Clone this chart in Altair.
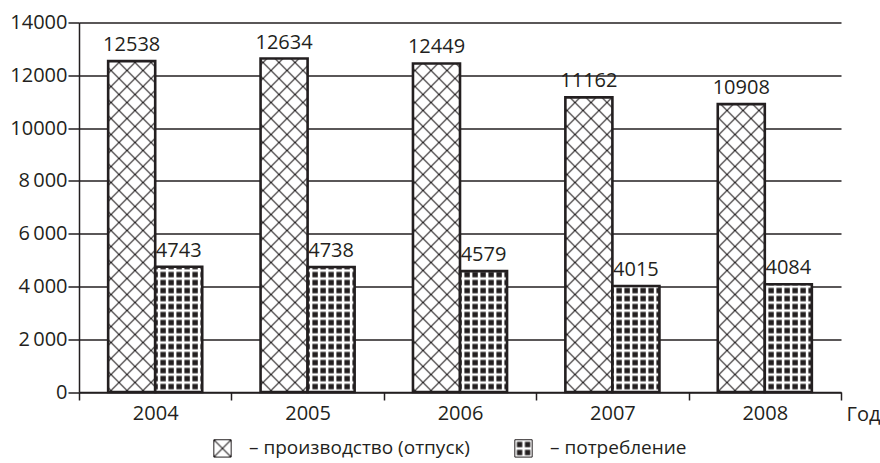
import altair as alt
import jinja2
import pandas as pd

# --- data -----------------------------------------------------------------
years = ["2004", "2005", "2006", "2007", "2008"]
series = ["производство (отпуск)", "потребление"]
production = [12538, 12634, 12449, 11162, 10908]
consumption = [4743, 4738, 4579, 4015, 4084]

rows = []
for i, y in enumerate(years):
    rows.append({"year": y, "series": series[0], "value": production[i]})
    rows.append({"year": y, "series": series[1], "value": consumption[i]})
df = pd.DataFrame(rows)

INK = "#231f20"
FONT = "Open Sans"

# Page template: the standard embed page plus two SVG hatch patterns
# (cross-hatch for production, dotted grid for consumption) that the
# bar fills refer to by url(#id).
PAGE = jinja2.Template("""<!DOCTYPE html>
<html>
<head>
  <meta charset="utf-8">
  <style>
    body { margin: 0; }
    #{{ output_div }}.vega-embed { width: 100%; display: flex; }
  </style>
  <script type="text/javascript" src="{{ base_url }}/vega@{{ vega_version }}"></script>
  <script type="text/javascript" src="{{ base_url }}/vega-lite@{{ vegalite_version }}"></script>
  <script type="text/javascript" src="{{ base_url }}/vega-embed@{{ vegaembed_version }}"></script>
</head>
<body>
  <svg width="0" height="0" style="position:absolute">
    <defs>
      <pattern id="xhatch" patternUnits="userSpaceOnUse" width="16" height="16">
        <rect width="16" height="16" fill="#ffffff"/>
        <path d="M-2,-2L18,18M14,-2L18,2M-2,14L2,18M18,-2L-2,18M-2,2L2,-2M14,18L18,14"
              stroke="#231f20" stroke-width="1.1" fill="none"/>
      </pattern>
      <pattern id="dgrid" patternUnits="userSpaceOnUse" width="8" height="8">
        <rect width="8" height="8" fill="#ffffff"/>
        <rect x="1.4" y="1.4" width="5.4" height="5.4" fill="#231f20"/>
      </pattern>
    </defs>
  </svg>
  <div id="{{ output_div }}"></div>
  <script type="text/javascript">
    vegaEmbed("#{{ output_div }}", {{ spec }}, {{ embed_options }}).catch(console.error);
  </script>
</body>
</html>""")

y_label_expr = (
    "datum.value >= 10000 || datum.value == 0 ? '' + datum.value : "
    "replace(format(datum.value, ','), ',', '\u2009')"
)

base = alt.Chart(df).encode(
    x=alt.X(
        "year:N",
        sort=years,
        scale=alt.Scale(paddingInner=0, paddingOuter=0),
        axis=alt.Axis(
            title="Год",
            titleX=767,
            titleY=28,
            titleAlign="left",
            titleBaseline="alphabetic",
            titleFont=FONT,
            titleFontSize=20,
            titleFontWeight="normal",
            titleColor=INK,
            labelAngle=0,
            labelFont=FONT,
            labelFontSize=20,
            labelColor=INK,
            labelPadding=3,
            tickBand="extent",
            tickSize=8,
            tickColor=INK,
            tickWidth=1.5,
            domainColor=INK,
            domainWidth=1.5,
            grid=False,
        ),
    ),
    xOffset=alt.XOffset(
        "series:N",
        sort=series,
        scale=alt.Scale(paddingInner=0, paddingOuter=0.62),
    ),
    y=alt.Y(
        "value:Q",
        scale=alt.Scale(domain=[0, 14000], nice=False),
        axis=alt.Axis(
            title=None,
            values=[0, 2000, 4000, 6000, 8000, 10000, 12000, 14000],
            labelExpr=y_label_expr,
            labelFont=FONT,
            labelFontSize=20,
            labelColor=INK,
            labelPadding=1,
            tickSize=11,
            tickColor=INK,
            tickWidth=1.5,
            domainColor=INK,
            domainWidth=1.5,
            grid=True,
            gridColor=INK,
            gridWidth=1.4,
            gridOpacity=1,
        ),
    ),
)

bars = base.mark_bar(stroke=INK, strokeWidth=2.6).encode(
    fill=alt.Fill(
        "series:N",
        sort=series,
        scale=alt.Scale(domain=series, range=["url(#xhatch)", "url(#dgrid)"]),
        legend=alt.Legend(
            title=None,
            orient="none",
            direction="horizontal",
            legendX=134,
            legendY=416,
            padding=0,
            symbolType="square",
            symbolSize=300,
            symbolStrokeColor=INK,
            symbolStrokeWidth=1,
            symbolOpacity=1,
            labelExpr="'– ' + datum.label",
            labelFont=FONT,
            labelFontSize=19,
            labelColor=INK,
            labelOffset=17,
            labelLimit=0,
            columnPadding=42,
        ),
    )
)

labels = base.mark_text(
    baseline="alphabetic", dy=-10, font=FONT, fontSize=20, color=INK
).encode(text=alt.Text("value:Q", format="d"))

chart = (
    alt.layer(bars, labels)
    .properties(
        width=762,
        height=369.5,
        autosize="none",
        padding={"left": 79, "top": 22.5, "right": 39, "bottom": 71},
        background="white",
    )
    .configure_view(stroke=None)
)

chart.save(
    "out.html",
    embed_options={"renderer": "svg", "actions": False},
    template=PAGE,
)
